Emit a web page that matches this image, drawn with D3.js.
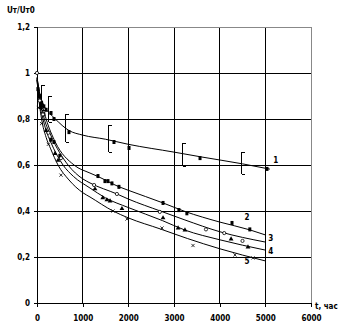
<!DOCTYPE html>
<html><head><meta charset="utf-8">
<script src="https://cdn.jsdelivr.net/npm/d3@7"></script>
<style>body{margin:0;background:#fff}svg{display:block}text{font-family:"Liberation Sans Narrow","DejaVu Sans Condensed","Liberation Sans",sans-serif;fill:#000}</style>
</head><body><svg id="c" width="345" height="333"></svg>
<script>
const xTicks = [0,1000,2000,3000,4000,5000,6000];
const xTickLabels = ["0","1000","2000","3000","4000","5000","6000"];
const yTicks = [0,0.2,0.4,0.6,0.8,1,1.2];
const yTickLabels = ["0","0,2","0,4","0,6","0,8","1","1,2"];
const yTitle = "Uт/Uт0";
const xTitle = "t, час";

// fitted curves
const line1 = [[0,0.98],[50,0.92],[150,0.86],[300,0.82],[400,0.8],[700,0.75],[1000,0.73],[1500,0.712],[2000,0.69],[3000,0.656],[3600,0.635],[4500,0.605],[5100,0.582]];
const line2 = [[0,0.98],[70,0.9],[200,0.8],[400,0.7],[810,0.6],[1160,0.565],[1335,0.55],[1800,0.505],[2000,0.49],[2760,0.435],[3240,0.398],[4000,0.352],[4660,0.318],[5000,0.296]];
const line3 = [[0,0.975],[60,0.89],[160,0.8],[300,0.73],[680,0.6],[1000,0.54],[1160,0.522],[1750,0.474],[2000,0.452],[2700,0.4],[3240,0.361],[4000,0.31],[5000,0.265]];
const line4 = [[0,0.97],[50,0.88],[130,0.8],[200,0.75],[300,0.7],[570,0.6],[800,0.55],[1160,0.5],[1500,0.457],[2000,0.415],[2750,0.358],[3240,0.317],[4000,0.275],[5000,0.23]];
const line5 = [[0,0.97],[50,0.87],[100,0.8],[200,0.72],[300,0.67],[460,0.6],[700,0.535],[1000,0.48],[1160,0.461],[1665,0.4],[2000,0.37],[2700,0.322],[3300,0.28],[4000,0.236],[5000,0.183]];

// measured points
const pts1 = [[20,0.93],[50,0.9],[100,0.87],[150,0.855],[200,0.84],[307,0.826],[372,0.8],[700,0.743],[1686,0.7],[2015,0.674],[3570,0.63],[5036,0.583]];
const pts2 = [[40,0.9],[90,0.86],[150,0.82],[300,0.71],[370,0.7],[500,0.64],[1335,0.552],[1488,0.53],[1554,0.53],[1641,0.52],[1794,0.505],[2760,0.435],[3107,0.404],[3282,0.39],[4270,0.348],[4660,0.32]];
const pts3 = [[0,1.0],[60,0.88],[130,0.82],[250,0.74],[525,0.63],[1250,0.513],[1750,0.474],[2690,0.396],[3700,0.32],[4100,0.304],[4500,0.27]];
const pts4 = [[80,0.85],[200,0.75],[395,0.65],[460,0.62],[1270,0.496],[1440,0.457],[1530,0.448],[1600,0.443],[1860,0.41],[2760,0.37],[3090,0.326],[3240,0.317],[4250,0.278],[4620,0.243]];
const pts5 = [[30,0.85],[100,0.78],[250,0.69],[525,0.556],[1665,0.4],[1970,0.365],[2737,0.326],[3416,0.25],[4335,0.209],[4730,0.196]];

// error bars of curve 1: [t, low, high]
const err1 = [[88,0.84,0.947],[240,0.787,0.9],[613,0.70,0.822],[1555,0.657,0.774],[3175,0.596,0.696],[4467,0.561,0.657]];

const curveLabels = ["1","2","3","4","5"];
const labelPos = [[5230,0.61],[4600,0.36],[5120,0.27],[5120,0.215],[4600,0.17]];

const svg = d3.select("#c");
const x = d3.scaleLinear().domain([0,6000]).range([37,311]);
const y = d3.scaleLinear().domain([0,1.2]).range([303,27]);

// grid
svg.append("g").selectAll("line").data(xTicks.slice(1)).join("line")
  .attr("x1",d=>x(d)).attr("x2",d=>x(d)).attr("y1",y(0)).attr("y2",y(1.2))
  .attr("stroke",d=>d===6000?"#888":"#000").attr("stroke-width",1).attr("shape-rendering","crispEdges");
svg.append("g").selectAll("line").data(yTicks.slice(1)).join("line")
  .attr("x1",x(0)).attr("x2",x(6000)).attr("y1",d=>y(d)).attr("y2",d=>y(d))
  .attr("stroke",d=>d===1.2?"#888":"#000").attr("stroke-width",1).attr("shape-rendering","crispEdges");

// axes
const xa = svg.append("g").attr("transform",`translate(0,${y(0)})`)
  .call(d3.axisBottom(x).tickValues(xTicks).tickFormat((d,i)=>xTickLabels[i]).tickSize(4).tickPadding(8));
const ya = svg.append("g").attr("transform",`translate(${x(0)},0)`)
  .call(d3.axisLeft(y).tickValues(yTicks).tickFormat((d,i)=>yTickLabels[i]).tickSize(3).tickPadding(4));
[xa,ya].forEach(a=>{a.select(".domain").attr("stroke","#000").attr("shape-rendering","crispEdges");
  a.selectAll(".tick line").attr("stroke","#000").attr("shape-rendering","crispEdges");
  a.selectAll("text").attr("font-size","8px").attr("font-weight","bold").style("font-family",'"Liberation Sans Narrow","DejaVu Sans Condensed",sans-serif');});

svg.append("text").attr("x",7).attr("y",13).attr("font-size","8px").attr("font-weight","bold").text(yTitle);
svg.append("text").attr("x",315).attr("y",309).attr("font-size","8px").attr("font-weight","bold").text(xTitle);

// lines
const lg = d3.line().x(d=>x(d[0])).y(d=>y(d[1])).curve(d3.curveMonotoneX);
[line1,line2,line3,line4,line5].forEach(l=>{
  svg.append("path").datum(l).attr("d",lg).attr("fill","none").attr("stroke","#000").attr("stroke-width",1);
});

// error bars
const eg = svg.append("g").attr("stroke","#000").attr("stroke-width",1).attr("shape-rendering","crispEdges");
err1.forEach(e=>{
  const xx = Math.round(x(e[0]))+0.5;
  eg.append("line").attr("x1",xx).attr("x2",xx).attr("y1",y(e[1])).attr("y2",y(e[2]));
  eg.append("line").attr("x1",xx).attr("x2",xx+3).attr("y1",Math.round(y(e[1]))+0.5).attr("y2",Math.round(y(e[1]))+0.5);
  eg.append("line").attr("x1",xx).attr("x2",xx+3).attr("y1",Math.round(y(e[2]))+0.5).attr("y2",Math.round(y(e[2]))+0.5);
});

// markers
function squares(data,w,h){svg.append("g").selectAll("rect").data(data).join("rect")
  .attr("x",d=>x(d[0])-w/2).attr("y",d=>y(d[1])-h/2).attr("width",w).attr("height",h).attr("fill","#000");}
squares(pts1,3,4);
squares(pts2,3,4);
svg.append("g").selectAll("circle").data(pts3).join("circle")
  .attr("cx",d=>x(d[0])).attr("cy",d=>y(d[1])).attr("r",1.6).attr("fill","#fff").attr("stroke","#000").attr("stroke-width",0.8);
const tri = d3.symbol().type(d3.symbolTriangle).size(10);
svg.append("g").selectAll("path").data(pts4).join("path")
  .attr("transform",d=>`translate(${x(d[0])},${y(d[1])})`).attr("d",tri).attr("fill","#000");
const cross = d3.symbol().type(d3.symbolX).size(8);
svg.append("g").selectAll("path").data(pts5).join("path")
  .attr("transform",d=>`translate(${x(d[0])},${y(d[1])})`).attr("d",cross).attr("fill","none").attr("stroke","#000").attr("stroke-width",0.8);

// curve labels
svg.append("g").selectAll("text").data(curveLabels).join("text")
  .attr("x",(d,i)=>x(labelPos[i][0])).attr("y",(d,i)=>y(labelPos[i][1])).attr("text-anchor","middle")
  .attr("font-size","8px").attr("font-weight","bold").text(d=>d);
</script></body></html>
